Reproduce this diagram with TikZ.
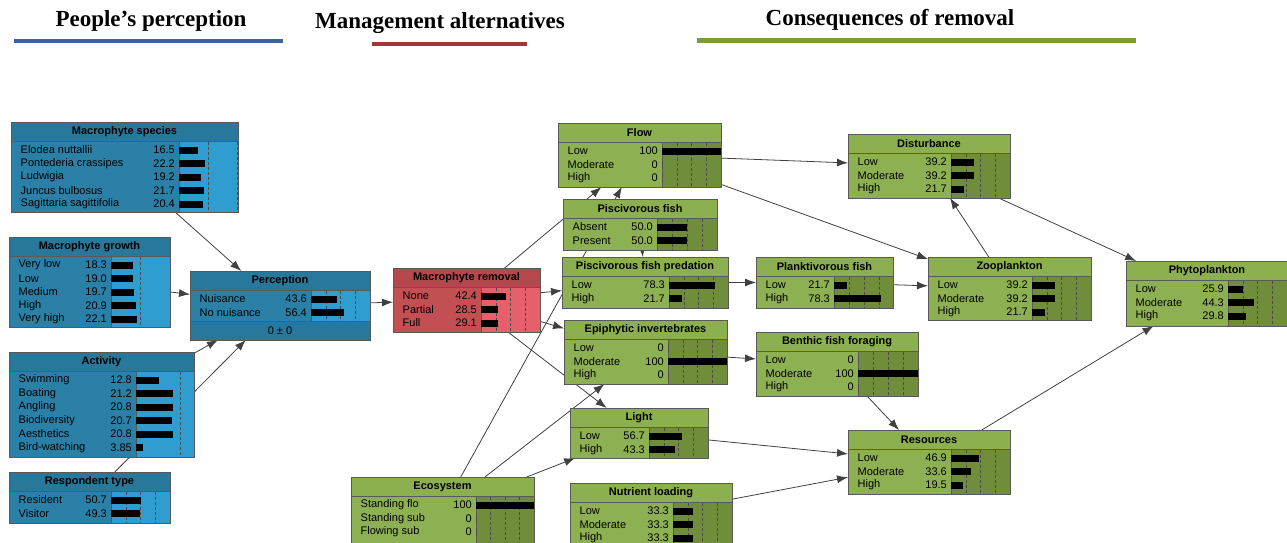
\documentclass[tikz,border=0pt]{standalone}
\usepackage{fontspec}
\setmainfont{Liberation Sans}
\newfontfamily\headfont{Liberation Serif}
\usetikzlibrary{arrows.meta}
\pgfdeclarelayer{background}
\pgfsetlayers{background,main}

\definecolor{bluetitle}{HTML}{27789A}
\definecolor{bluebody}{HTML}{2A80A6}
\definecolor{bluebar}{HTML}{2F9DCF}
\definecolor{redtitle}{HTML}{B5474D}
\definecolor{redbody}{HTML}{C25053}
\definecolor{redbar}{HTML}{E5606A}
\definecolor{greentitle}{HTML}{8CB04F}
\definecolor{greenbody}{HTML}{8DB152}
\definecolor{greenbar}{HTML}{6F8D3B}
\definecolor{headblue}{HTML}{3B63A0}
\definecolor{headred}{HTML}{A23539}
\definecolor{headgreen}{HTML}{7C9B3B}

\tikzset{
  netnode/.style={draw=black!65, line width=0.8pt, inner sep=0pt, outer sep=0pt, anchor=north west},
  netline/.style={draw=black!65, line width=0.8pt},
  tickline/.style={black!70, densely dashed, line width=0.4pt},
  titletext/.style={inner sep=0pt, font=\fontsize{11}{13}\selectfont\bfseries},
  rowtext/.style={inner sep=0pt, font=\fontsize{11}{13}\selectfont},
  link/.style={draw=black!75, line width=0.8pt, -{Latex[length=11pt,width=8pt]}},
  headtext/.style={inner sep=0pt, font=\headfont\fontsize{23}{26}\selectfont\bfseries}
}

% box: name, x1, y1, x2, y2, divider, px for 100%, colour, title
\newcommand{\netbox}[9]{
  \def\curname{#1}\def\curx{#2}\def\cury{#3}\def\curdiv{#6}\def\curscale{#7}
  \fill[#8body] (#2,#3) rectangle (#4,#5);
  \fill[#8title] (#2,#3) rectangle (#4,#3+19.5);
  \fill[#8bar] (#6,#3+19.5) rectangle (#4,#5);
  \begin{scope}
    \clip (#6,#3+19.5) rectangle (#4,#5);
    \draw[tickline] ({#6+0.25*#7},#3+19.5) -- ({#6+0.25*#7},#5);
    \draw[tickline] ({#6+0.5*#7},#3+19.5) -- ({#6+0.5*#7},#5);
    \draw[tickline] ({#6+0.75*#7},#3+19.5) -- ({#6+0.75*#7},#5);
  \end{scope}
  \draw[netline] (#2,#3+19.5) -- (#4,#3+19.5);
  \draw[netline] (#6,#3+19.5) -- (#6,#5);
  \node[netnode, minimum width={(#4-#2)*1pt}, minimum height={(#5-#3)*1pt}] (#1) at (#2,#3) {};
  \node[titletext] (#1-title) at ({(#2+#4)/2},#3+10) {#9};
}
% row: index, state, value
\newcommand{\staterow}[3]{
  \node[rowtext, anchor=west] (\curname-s#1) at (\curx+9.5, {\cury+28+13.5*(#1-1)}) {#2};
  \node[rowtext, anchor=east] (\curname-v#1) at (\curdiv-4, {\cury+28+13.5*(#1-1)}) {#3};
  \fill[black] (\curdiv, {\cury+24.5+13.5*(#1-1)}) rectangle ({\curdiv+#3*\curscale/100}, {\cury+31.5+13.5*(#1-1)});
}

\begin{document}
\begin{tikzpicture}[x=1pt,y=-1pt]
  \clip (0,0) rectangle (1287,543);

  % headings
  \node[headtext] (head-people) at (151,21) {People’s perception};
  \node[headtext] (head-manage) at (440,23) {Management alternatives};
  \node[headtext] (head-conseq) at (890,20) {Consequences of removal};
  \draw[headblue, line width=4.5pt] (14,41) -- (283,41);
  \draw[headred, line width=4pt] (372,44) -- (527,44);
  \draw[headgreen, line width=5pt] (697,41) -- (1136,41);

  % people's perception
  \netbox{spec}{11}{122}{238}{212}{179}{116}{blue}{Macrophyte species}
  \staterow{1}{Elodea nuttallii}{16.5}
  \staterow{2}{Pontederia crassipes}{22.2}
  \staterow{3}{Ludwigia}{19.2}
  \staterow{4}{Juncus bulbosus}{21.7}
  \staterow{5}{Sagittaria sagittifolia}{20.4}

  \netbox{growth}{9}{237}{170}{327}{111}{118}{blue}{Macrophyte growth}
  \staterow{1}{Very low}{18.3}
  \staterow{2}{Low}{19.0}
  \staterow{3}{Medium}{19.7}
  \staterow{4}{High}{20.9}
  \staterow{5}{Very high}{22.1}

  \netbox{perc}{190}{271}{370}{340}{311}{59}{blue}{Perception}
  \staterow{1}{Nuisance}{43.6}
  \staterow{2}{No nuisance}{56.4}
  \fill[bluetitle] (190,321) rectangle (370,340);
  \draw[netline] (190,321) -- (370,321);
  \draw[netline] (perc.north west) rectangle (perc.south east);
  \node[rowtext] (perc-mean) at (280,331) {0 ± 0};

  \netbox{act}{9}{352}{194}{457}{136}{176}{blue}{Activity}
  \staterow{1}{Swimming}{12.8}
  \staterow{2}{Boating}{21.2}
  \staterow{3}{Angling}{20.8}
  \staterow{4}{Biodiversity}{20.7}
  \staterow{5}{Aesthetics}{20.8}
  \staterow{6}{Bird-watching}{3.85}

  \netbox{resp}{9}{472}{170}{523}{111}{59}{blue}{Respondent type}
  \staterow{1}{Resident}{50.7}
  \staterow{2}{Visitor}{49.3}

  % management alternatives
  \netbox{removal}{393}{268}{540}{332}{481}{59}{red}{Macrophyte removal}
  \staterow{1}{None}{42.4}
  \staterow{2}{Partial}{28.5}
  \staterow{3}{Full}{29.1}

  % consequences of removal
  \netbox{flow}{558}{123}{721}{187}{662}{59}{green}{Flow}
  \staterow{1}{Low}{100}
  \staterow{2}{Moderate}{0}
  \staterow{3}{High}{0}

  \netbox{pisc}{563}{199}{717}{250}{657}{60}{green}{Piscivorous fish}
  \staterow{1}{Absent}{50.0}
  \staterow{2}{Present}{50.0}

  \netbox{pred}{562}{257}{728}{308}{669}{59}{green}{Piscivorous fish predation}
  \staterow{1}{Low}{78.3}
  \staterow{2}{High}{21.7}

  \netbox{epi}{564}{320}{727}{384}{668}{59}{green}{Epiphytic invertebrates}
  \staterow{1}{Low}{0}
  \staterow{2}{Moderate}{100}
  \staterow{3}{High}{0}

  \netbox{light}{570}{408}{708}{458}{649}{59}{green}{Light}
  \staterow{1}{Low}{56.7}
  \staterow{2}{High}{43.3}

  \netbox{eco}{351}{477}{534}{543}{476}{58}{green}{Ecosystem}
  \staterow{1}{Standing flo}{100}
  \staterow{2}{Standing sub}{0}
  \staterow{3}{Flowing sub}{0}

  \netbox{nutr}{570}{483}{732}{546}{673}{59}{green}{Nutrient loading}
  \staterow{1}{Low}{33.3}
  \staterow{2}{Moderate}{33.3}
  \staterow{3}{High}{33.3}

  \netbox{plank}{756}{257}{893}{308}{834}{60}{green}{Planktivorous fish}
  \staterow{1}{Low}{21.7}
  \staterow{2}{High}{78.3}

  \netbox{zoo}{928}{257}{1091}{320}{1032}{59}{green}{Zooplankton}
  \staterow{1}{Low}{39.2}
  \staterow{2}{Moderate}{39.2}
  \staterow{3}{High}{21.7}

  \netbox{dist}{848}{134}{1010}{198}{951}{59}{green}{Disturbance}
  \staterow{1}{Low}{39.2}
  \staterow{2}{Moderate}{39.2}
  \staterow{3}{High}{21.7}

  \netbox{benthic}{756}{332}{918}{396}{858}{60}{green}{Benthic fish foraging}
  \staterow{1}{Low}{0}
  \staterow{2}{Moderate}{100}
  \staterow{3}{High}{0}

  \netbox{res}{848}{430}{1010}{494}{951}{59}{green}{Resources}
  \staterow{1}{Low}{46.9}
  \staterow{2}{Moderate}{33.6}
  \staterow{3}{High}{19.5}

  \netbox{phyto}{1126}{261}{1288}{326}{1228}{59}{green}{Phytoplankton}
  \staterow{1}{Low}{25.9}
  \staterow{2}{Moderate}{44.3}
  \staterow{3}{High}{29.8}

  % links, centre to centre, behind the boxes
  \begin{pgfonlayer}{background}
    \draw[link] (spec) -- (perc);
    \draw[link] (growth) -- (perc);
    \draw[link] (act) -- (perc);
    \draw[link] (resp) -- (perc);
    \draw[link] (perc) -- (removal);
    \draw[link] (removal) -- (flow);
    \draw[link] (removal) -- (pred);
    \draw[link] (removal) -- (epi);
    \draw[link] (removal) -- (light);
    \draw[link] (pisc) -- (pred);
    \draw[link] (eco) -- (flow);
    \draw[link] (eco) -- (epi);
    \draw[link] (eco) -- (light);
    \draw[link] (flow) -- (dist);
    \draw[link] (flow) -- (zoo);
    \draw[link] (pred) -- (plank);
    \draw[link] (plank) -- (zoo);
    \draw[link] (zoo) -- (dist);
    \draw[link] (dist) -- (phyto);
    \draw[link] (epi) -- (benthic);
    \draw[link] (benthic) -- (res);
    \draw[link] (light) -- (res);
    \draw[link] (nutr) -- (res);
    \draw[link] (res) -- (phyto);
  \end{pgfonlayer}
\end{tikzpicture}
\end{document}
